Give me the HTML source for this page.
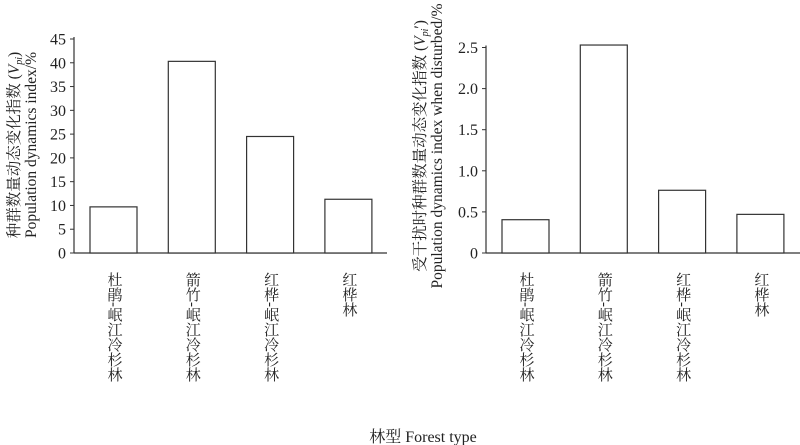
<!DOCTYPE html>
<html><head><meta charset="utf-8"><style>
body{margin:0;background:#fff}
svg{display:block}
text{font-family:"Liberation Serif","Noto Serif CJK SC",serif;fill:#222}
</style></head><body>
<svg width="800" height="445" viewBox="0 0 800 445">
<g id="left"></g>
<g id="right"></g>
<text x="423" y="442" font-size="16" text-anchor="middle">林型  Forest type</text>
</svg>
<script>
const categories = ["杜鹃-岷江冷杉林","箭竹-岷江冷杉林","红桦-岷江冷杉林","红桦林"];
const leftValues = [9.7, 40.3, 24.5, 11.3];
const rightValues = [0.405, 2.53, 0.763, 0.47];
const leftTicks = [0,5,10,15,20,25,30,35,40,45];
const rightTicks = [0,0.5,1.0,1.5,2.0,2.5];
const rightTickLabels = ["0","0.5","1.0","1.5","2.0","2.5"];
const NS="http://www.w3.org/2000/svg";
function mk(parent,tag,attrs){const e=document.createElementNS(NS,tag);for(const k in attrs)e.setAttribute(k,attrs[k]);parent.appendChild(e);return e;}
function drawChart(g,cfg){
  const y=v=>cfg.y0-(v-0)/(cfg.vmax)*(cfg.y0-cfg.yTop);
  const ax=mk(g,'line',{x1:cfg.ax,y1:cfg.yTop-2,x2:cfg.ax,y2:cfg.y0,stroke:'#333','stroke-width':1.2});
  
  
  const bx=mk(g,'line',{x1:cfg.ax,y1:cfg.y0,x2:cfg.axEnd,y2:cfg.y0,stroke:'#333','stroke-width':1.2});
  
  
  cfg.ticks.forEach((t,i)=>{
    const yy=y(t);
    const tl=mk(g,'line',{x1:cfg.ax-4,y1:yy,x2:cfg.ax,y2:yy,stroke:'#333','stroke-width':1});
    
    
    const tx=mk(g,'text',{x:cfg.ax-8,y:yy+5.5,'font-size':16,'text-anchor':'end'});
    tx.textContent=cfg.tickLabels[i];
    
    
  });
  const step=(cfg.axEnd-cfg.ax-cfg.pad)/cfg.values.length;
  cfg.values.forEach((v,i)=>{
    const cx=cfg.ax+cfg.first+i*cfg.spacing;
    const r=mk(g,'rect',{x:cx-cfg.bw/2,y:y(v),width:cfg.bw,height:cfg.y0-y(v),fill:'#fff',stroke:'#333','stroke-width':1.2});
    
    
    const t=mk(g,'text',{x:cx,y:272,'font-size':15,style:'writing-mode:vertical-rl;glyph-orientation-vertical:0'});
    t.textContent=categories[i];
    
    
  });
}
drawChart(document.getElementById('left'),{ax:74,axEnd:387,y0:253,yTop:39,vmax:45,ticks:leftTicks,tickLabels:leftTicks.map(String),values:leftValues,first:39.5,spacing:78.3,bw:47,pad:0});
drawChart(document.getElementById('right'),{ax:486,axEnd:800,y0:253,yTop:47.5,vmax:2.5,ticks:rightTicks,tickLabels:rightTickLabels,values:rightValues,first:39.5,spacing:78.3,bw:47,pad:0});
// axis titles
function title(x,yc,zh,en,name){
  const g=mk(document.querySelector('svg'),'g',{transform:`translate(${x},${yc}) rotate(-90)`});
  
  
  const t1=mk(g,'text',{x:0,y:0,'font-size':15.5,'text-anchor':'middle'});
  t1.innerHTML=zh+' (<tspan font-style="italic">V</tspan><tspan font-style="italic" font-size="10" dy="3">pi</tspan><tspan dy="-3">'+(name.includes('right')?'′':'')+')</tspan>';
  const t2=mk(g,'text',{x:0,y:17,'font-size':15.5,'text-anchor':'middle'});
  t2.textContent=en;
}
title(19,145,'种群数量动态变化指数','Population dynamics index/%','left-y-axis-title');
title(425,146,'受干扰时种群数量动态变化指数','Population dynamics index when disturbed/%','right-y-axis-title');
</script>
</body></html>
